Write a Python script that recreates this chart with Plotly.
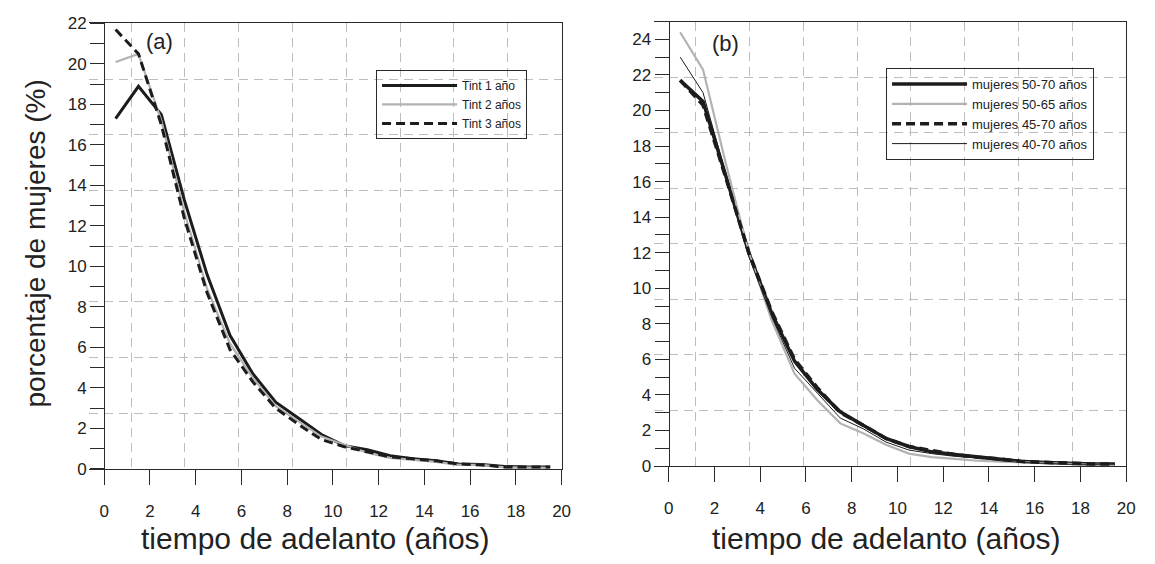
import plotly.graph_objects as go

# ---------------- data ----------------
x_years = [0.5, 1.5, 2.5, 3.5, 4.5, 5.5, 6.5, 7.5, 8.5, 9.5,
           10.5, 11.5, 12.5, 13.5, 14.5, 15.5, 16.5, 17.5, 18.5, 19.5]

# panel (a)
tint1 = [17.3, 18.9, 17.5, 13.3, 9.6, 6.6, 4.7, 3.3, 2.5, 1.7,
         1.15, 0.95, 0.65, 0.5, 0.4, 0.25, 0.22, 0.12, 0.1, 0.1]
tint2 = [20.1, 20.5, 17.2, 12.7, 8.9, 6.2, 4.5, 3.1, 2.35, 1.6,
         1.2, 0.8, 0.55, 0.45, 0.35, 0.2, 0.2, 0.08, 0.05, 0.05]
tint3 = [21.7, 20.5, 17.0, 12.4, 8.7, 5.9, 4.3, 3.0, 2.2, 1.45,
         1.1, 0.85, 0.6, 0.5, 0.4, 0.25, 0.2, 0.1, 0.1, 0.1]

# panel (b)
m50_70 = [21.7, 20.5, 16.3, 12.0, 8.6, 5.9, 4.3, 3.05, 2.3, 1.55,
          1.1, 0.8, 0.65, 0.5, 0.35, 0.25, 0.2, 0.15, 0.12, 0.12]
m50_65 = [24.4, 22.3, 17.0, 12.0, 8.2, 5.2, 3.7, 2.4, 1.85, 1.2,
          0.7, 0.5, 0.4, 0.3, 0.25, 0.2, 0.15, 0.1, 0.08, 0.06]
m45_70 = [21.7, 20.3, 16.2, 12.0, 8.7, 6.0, 4.4, 3.0, 2.3, 1.55,
          1.1, 0.85, 0.65, 0.5, 0.4, 0.25, 0.2, 0.15, 0.12, 0.12]
m40_70 = [23.0, 21.0, 16.4, 11.8, 8.4, 5.5, 4.1, 2.7, 2.1, 1.35,
          0.9, 0.7, 0.55, 0.45, 0.3, 0.2, 0.15, 0.1, 0.1, 0.1]

names_a = ["Tint 1 año", "Tint 2 años", "Tint 3 años"]
names_b = ["mujeres 50-70 años", "mujeres 50-65 años",
           "mujeres 45-70 años", "mujeres 40-70 años"]

x_ticks = [0, 2, 4, 6, 8, 10, 12, 14, 16, 18, 20]

# ---------------- styling ----------------
W, H = 1155, 564
FONT = "Liberation Sans, Arial, sans-serif"
BLACK = "#1c1c1c"
GRAY = "#b2b2b2"
AXC = "#2a2a2a"
GRIDC = "#bdbdbd"
GRIDDASH = "9px,6px"

def px_x(p):
    return p / W

def px_y(p):
    return (H - p) / H

X_RANGE = [-0.65, 20]

fig = go.Figure()

# panel (a) traces
fig.add_trace(go.Scatter(x=x_years, y=tint1, name=names_a[0], mode="lines",
                         line=dict(color=BLACK, width=3), xaxis="x", yaxis="y",
                         legend="legend"))
fig.add_trace(go.Scatter(x=x_years, y=tint2, name=names_a[1], mode="lines",
                         line=dict(color=GRAY, width=2.2), xaxis="x", yaxis="y",
                         legend="legend"))
fig.add_trace(go.Scatter(x=x_years, y=tint3, name=names_a[2], mode="lines",
                         line=dict(color=BLACK, width=3, dash="9px,5px"),
                         xaxis="x", yaxis="y", legend="legend"))

# panel (b) traces
fig.add_trace(go.Scatter(x=x_years, y=m50_70, name=names_b[0], mode="lines",
                         line=dict(color=BLACK, width=3.5), xaxis="x2", yaxis="y2",
                         legend="legend2"))
fig.add_trace(go.Scatter(x=x_years, y=m50_65, name=names_b[1], mode="lines",
                         line=dict(color=GRAY, width=2.2), xaxis="x2", yaxis="y2",
                         legend="legend2"))
fig.add_trace(go.Scatter(x=x_years, y=m45_70, name=names_b[2], mode="lines",
                         line=dict(color=BLACK, width=3.5, dash="9px,5px"),
                         xaxis="x2", yaxis="y2", legend="legend2"))
fig.add_trace(go.Scatter(x=x_years, y=m40_70, name=names_b[3], mode="lines",
                         line=dict(color=BLACK, width=1), xaxis="x2", yaxis="y2",
                         legend="legend2"))

# invisible traces so the overlay grid subplots exist
for xa, ya in (("x3", "y3"), ("x4", "y4")):
    fig.add_trace(go.Scatter(x=[None], y=[None], xaxis=xa, yaxis=ya,
                             showlegend=False, hoverinfo="skip"))

dom_a_x = [px_x(90), px_x(566)]
dom_a_y = [px_y(476), px_y(15)]
dom_b_x = [px_x(659), px_x(1135)]
dom_b_y = [px_y(473), px_y(13)]

tickfont = dict(family=FONT, size=17, color="#222")

def main_x(domain, anchor):
    return dict(domain=domain, range=X_RANGE, anchor=anchor,
                tickmode="array", tickvals=x_ticks, ticktext=[str(v) for v in x_ticks],
                ticks="outside", ticklen=15, tickwidth=1.3, tickcolor=AXC,
                ticklabelstandoff=11,
                showline=True, mirror=True, linecolor=AXC, linewidth=1.3,
                showgrid=False, zeroline=False, tickfont=tickfont)

def main_y(domain, rng, pos):
    return dict(domain=domain, range=rng, anchor="free", position=pos,
                dtick=2, tick0=0, ticks="outside", ticklen=14, tickwidth=1.3,
                tickcolor=AXC, showline=True, linecolor=AXC, linewidth=1.3,
                showgrid=False, zeroline=False, tickfont=tickfont,
                minor=dict(dtick=1, tick0=0, ticks="outside", ticklen=14,
                           tickwidth=1.3, tickcolor=AXC, showgrid=False))

def grid_x(overlay, anchor):
    return dict(overlaying=overlay, anchor=anchor, range=X_RANGE,
                tick0=20, dtick=20 / 8.5, showgrid=True, gridcolor=GRIDC,
                griddash=GRIDDASH, gridwidth=1, showticklabels=False, ticks="",
                showline=False, zeroline=False)

def grid_y(overlay, anchor, rng):
    return dict(overlaying=overlay, anchor=anchor, side="right", range=rng,
                tick0=0, dtick=rng[1] / 8, showgrid=True, gridcolor=GRIDC,
                griddash=GRIDDASH, gridwidth=1, showticklabels=False, ticks="",
                showline=True, linecolor=AXC, linewidth=1.3, zeroline=False)

fig.update_layout(
    width=W, height=H,
    margin=dict(l=0, r=0, t=0, b=0),
    paper_bgcolor="white", plot_bgcolor="rgba(0,0,0,0)",
    font=dict(family=FONT, color="#222"),
    xaxis=main_x(dom_a_x, "y"),
    yaxis=main_y(dom_a_y, [0, 22], px_x(105)),
    xaxis2=main_x(dom_b_x, "y2"),
    yaxis2=main_y(dom_b_y, [0, 25], px_x(674)),
    xaxis3=grid_x("x", "y3"),
    yaxis3=grid_y("y", "x3", [0, 22]),
    xaxis4=grid_x("x2", "y4"),
    yaxis4=grid_y("y2", "x4", [0, 25]),
    legend=dict(x=px_x(379), y=px_y(63), xanchor="left", yanchor="top",
                bgcolor="rgba(0,0,0,0)", bordercolor=AXC, borderwidth=1,
                font=dict(family=FONT, size=12, color="#222"),
                itemwidth=75, tracegroupgap=0),
    legend2=dict(x=px_x(893), y=px_y(61), xanchor="left", yanchor="top",
                 bgcolor="rgba(0,0,0,0)", bordercolor=AXC, borderwidth=1,
                 font=dict(family=FONT, size=13, color="#222"),
                 itemwidth=75, tracegroupgap=0),
    showlegend=True,
)

# grid subplots share the domains of the main ones
fig.layout.xaxis3.domain = dom_a_x
fig.layout.yaxis3.domain = dom_a_y
fig.layout.xaxis4.domain = dom_b_x
fig.layout.yaxis4.domain = dom_b_y

ann_font_x = dict(family=FONT, size=30, color="#222")
ann_font_y = dict(family=FONT, size=28, color="#222")
fig.add_annotation(text="tiempo de adelanto (años)", xref="paper", yref="paper",
                   x=px_x(318), y=px_y(548), showarrow=False, font=ann_font_x,
                   xanchor="center", yanchor="middle")
fig.add_annotation(text="tiempo de adelanto (años)", xref="paper", yref="paper",
                   x=px_x(893), y=px_y(548), showarrow=False, font=ann_font_x,
                   xanchor="center", yanchor="middle")
fig.add_annotation(text="porcentaje de mujeres (%)", xref="paper", yref="paper",
                   x=px_x(36), y=px_y(243), showarrow=False, font=ann_font_y,
                   textangle=-90, xanchor="center", yanchor="middle")
fig.add_annotation(text="(a)", xref="paper", yref="paper", x=px_x(161), y=px_y(34),
                   showarrow=False, font=dict(family=FONT, size=22, color="#222"),
                   xanchor="center", yanchor="middle")
fig.add_annotation(text="(b)", xref="paper", yref="paper", x=px_x(731), y=px_y(36),
                   showarrow=False, font=dict(family=FONT, size=22, color="#222"),
                   xanchor="center", yanchor="middle")

fig.write_html("out.html")
